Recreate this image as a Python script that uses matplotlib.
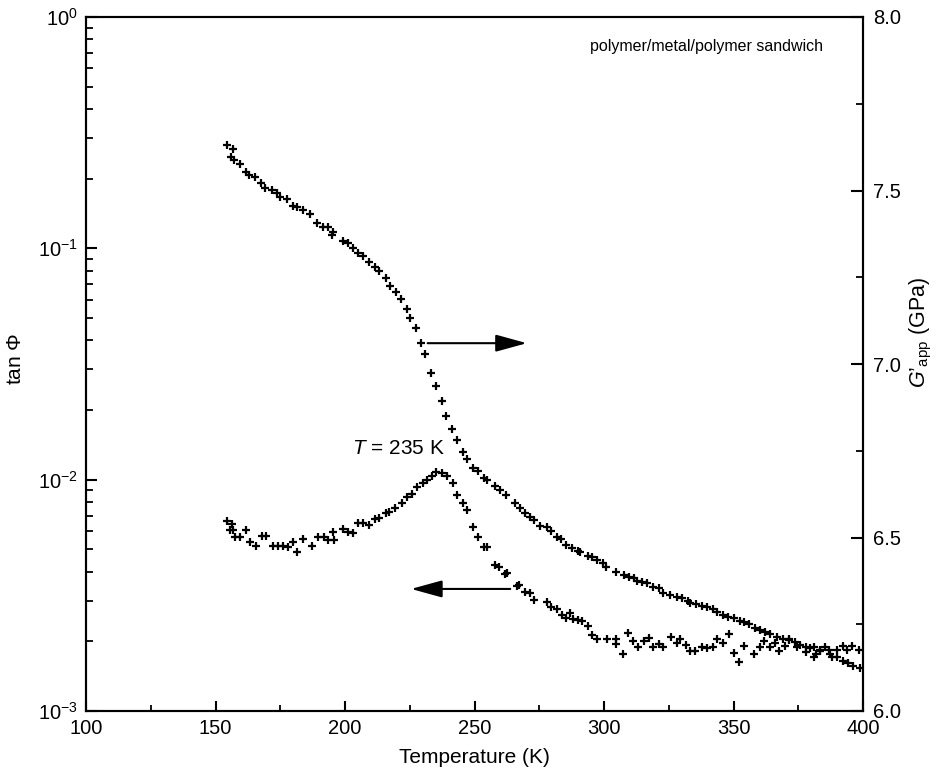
import matplotlib
matplotlib.use("Agg")
import matplotlib.pyplot as plt
from matplotlib.ticker import FixedLocator, MultipleLocator, LogLocator, NullFormatter, FixedFormatter

plt.rcParams['font.family'] = ['Liberation Sans', 'DejaVu Sans']
plt.rcParams['mathtext.fontset'] = 'custom'
plt.rcParams['mathtext.rm'] = 'Liberation Sans'
plt.rcParams['mathtext.it'] = 'Liberation Sans:italic'
plt.rcParams['mathtext.bf'] = 'Liberation Sans:bold'

# ---- data: apparent storage modulus G'_app (right axis) ----
temp_g = [154.3, 156.9, 155.9, 157.2, 159.5, 161.8, 163.1, 165.3, 167.5, 169.1,
          171.7, 173.7, 174.9, 177.5, 180.1, 181.4, 183.7, 186.5, 189.3, 191.4,
          193.6, 195.3, 194.9, 199.2, 201.3, 203.0, 205.2, 207.1, 209.4, 211.6,
          213.3, 215.9, 217.4, 219.7, 221.7, 223.9, 225.1, 227.5, 229.4, 230.7,
          233.1, 235.2, 237.4, 238.9, 241.3, 243.4, 245.5, 247.0, 249.4, 251.3,
          253.7, 255.0, 258.0, 259.9, 262.2, 265.7, 267.4, 269.6, 271.5, 273.0,
          275.4, 277.9, 279.5, 282.0, 283.4, 285.4, 287.6, 289.8, 290.8, 294.0,
          295.3, 297.3, 299.8, 300.9, 304.7, 307.8, 309.5, 311.4, 312.9, 314.6,
          316.6, 319.1, 321.4, 322.8, 325.6, 328.2, 330.1, 332.3, 333.3, 335.6,
          337.8, 339.7, 342.1, 343.6, 345.9, 347.7, 350.0, 352.6, 353.9, 355.8,
          358.4, 360.3, 362.3, 364.2, 366.8, 369.3, 371.3, 373.9, 375.8, 379.6,
          383.5, 387.4, 389.9, 392.3, 394.4, 396.1, 398.9]
g_app = [7.631, 7.619, 7.597, 7.588, 7.576, 7.554, 7.545, 7.540, 7.522, 7.506,
         7.501, 7.492, 7.482, 7.476, 7.455, 7.453, 7.444, 7.432, 7.405, 7.394,
         7.396, 7.381, 7.372, 7.355, 7.350, 7.333, 7.319, 7.311, 7.295, 7.280,
         7.269, 7.247, 7.225, 7.208, 7.186, 7.159, 7.132, 7.105, 7.060, 7.028,
         6.975, 6.937, 6.893, 6.850, 6.812, 6.781, 6.747, 6.725, 6.699, 6.692,
         6.671, 6.666, 6.648, 6.637, 6.622, 6.599, 6.584, 6.570, 6.560, 6.550,
         6.533, 6.529, 6.520, 6.502, 6.495, 6.478, 6.469, 6.462, 6.459, 6.447,
         6.443, 6.435, 6.426, 6.414, 6.401, 6.392, 6.385, 6.382, 6.375, 6.373,
         6.368, 6.358, 6.354, 6.339, 6.334, 6.328, 6.325, 6.318, 6.312, 6.308,
         6.303, 6.299, 6.293, 6.286, 6.277, 6.272, 6.267, 6.260, 6.257, 6.251,
         6.238, 6.233, 6.227, 6.222, 6.214, 6.207, 6.205, 6.200, 6.190, 6.182,
         6.173, 6.164, 6.155, 6.144, 6.137, 6.131, 6.123]

# ---- data: loss tangent tan(Phi) (left axis) ----
temp_tan = [154.3, 156.3, 155.6, 156.9, 157.6, 159.5, 161.8, 163.3, 165.7, 167.9,
            169.5, 172.1, 174.3, 176.2, 178.1, 180.1, 181.6, 183.9, 187.2, 189.7,
            191.7, 193.6, 195.3, 195.8, 199.4, 201.3, 203.0, 205.2, 207.1, 209.4,
            211.6, 213.3, 215.9, 216.8, 219.4, 221.9, 223.9, 225.8, 227.7, 230.1,
            231.6, 233.5, 235.2, 237.4, 239.3, 241.6, 243.4, 245.5, 247.0, 249.4,
            251.5, 253.7, 255.0, 258.0, 259.6, 261.8, 262.5, 266.6, 267.0, 269.6,
            271.5, 273.0, 277.9, 279.5, 281.8, 283.7, 285.4, 286.9, 288.0, 289.8,
            291.5, 294.0, 295.3, 297.3, 301.1, 304.7, 304.7, 307.5, 309.1, 311.2,
            313.3, 315.5, 317.2, 319.1, 321.4, 322.8, 325.8, 328.2, 329.2, 331.8,
            333.3, 335.2, 337.8, 339.7, 342.1, 343.6, 345.9, 348.1, 350.0, 352.3,
            353.9, 358.0, 360.3, 361.9, 363.9, 366.1, 367.4, 370.0, 371.6, 374.5,
            378.1, 378.1, 380.9, 380.9, 382.0, 383.5, 385.4, 386.7, 388.0, 390.0,
            392.3, 393.8, 395.8, 398.3]
tan_phi = [0.00665, 0.00643, 0.00606, 0.00606, 0.00564, 0.00564, 0.00606, 0.00540, 0.00517, 0.00571,
           0.00571, 0.00517, 0.00517, 0.00517, 0.00510, 0.00540, 0.00488, 0.00553, 0.00517, 0.00564,
           0.00564, 0.00549, 0.00596, 0.00549, 0.00610, 0.00596, 0.00590, 0.00652, 0.00652, 0.00637,
           0.00674, 0.00681, 0.00716, 0.00727, 0.00752, 0.00791, 0.00839, 0.00867, 0.00927, 0.00971,
           0.01000, 0.01040, 0.01080, 0.01070, 0.01040, 0.00971, 0.00859, 0.00791, 0.00740, 0.00626,
           0.00567, 0.00513, 0.00513, 0.00428, 0.00418, 0.00391, 0.00393, 0.00347, 0.00350, 0.00328,
           0.00323, 0.00302, 0.00297, 0.00282, 0.00275, 0.00260, 0.00252, 0.00265, 0.00249, 0.00247,
           0.00246, 0.00233, 0.00213, 0.00204, 0.00204, 0.00204, 0.00195, 0.00176, 0.00217, 0.00201,
           0.00190, 0.00201, 0.00206, 0.00189, 0.00195, 0.00190, 0.00208, 0.00197, 0.00204, 0.00193,
           0.00182, 0.00182, 0.00190, 0.00187, 0.00190, 0.00204, 0.00197, 0.00215, 0.00178, 0.00163,
           0.00191, 0.00176, 0.00190, 0.00201, 0.00190, 0.00197, 0.00182, 0.00191, 0.00204, 0.00190,
           0.00190, 0.00180, 0.00190, 0.00172, 0.00176, 0.00184, 0.00190, 0.00184, 0.00171, 0.00184,
           0.00191, 0.00184, 0.00191, 0.00184]

x_ticks = [100, 150, 200, 250, 300, 350, 400]
left_ticks = [1e-3, 1e-2, 1e-1, 1e0]
left_ticklabels = [r'$10^{-3}$', r'$10^{-2}$', r'$10^{-1}$', r'$10^{0}$']
right_ticks = [6.0, 6.5, 7.0, 7.5, 8.0]

# annotation anchors (data coordinates)
arrow_right = ((231.9, 7.06), (270.2, 7.06))
arrow_left = ((263.8, 0.00337), (225.5, 0.00337))
peak_label_pos = (202.7, 0.01357)

fig = plt.figure(figsize=(9.36, 7.72), dpi=100)
ax = fig.add_axes([86 / 936, 61 / 772, 777 / 936, 694 / 772])
ax2 = ax.twinx()

ax.plot(temp_tan, tan_phi, linestyle='none', marker='+', ms=6, mew=1.6, color='black')
ax2.plot(temp_g, g_app, linestyle='none', marker='+', ms=6, mew=1.6, color='black')

ax.set_xlim(100, 400)
ax.set_yscale('log')
ax.set_ylim(1e-3, 1e0)
ax2.set_ylim(6.0, 8.0)

ax.xaxis.set_major_locator(FixedLocator(x_ticks))
ax.xaxis.set_minor_locator(MultipleLocator(25))
ax.yaxis.set_major_locator(FixedLocator(left_ticks))
ax.yaxis.set_major_formatter(FixedFormatter(left_ticklabels))
ax.yaxis.set_minor_locator(LogLocator(base=10, subs=[2, 3, 4, 5, 6, 7, 8, 9], numticks=20))
ax.yaxis.set_minor_formatter(NullFormatter())
ax2.yaxis.set_major_locator(FixedLocator(right_ticks))
ax2.yaxis.set_major_formatter(FixedFormatter([f"{v:.1f}" for v in right_ticks]))
ax2.yaxis.set_minor_locator(MultipleLocator(0.25))

for a in (ax, ax2):
    for s in a.spines.values():
        s.set_linewidth(1.5)

ax.tick_params(axis='x', which='major', direction='in', length=7, width=1.5, labelsize=14.5, pad=6, top=False)
ax.tick_params(axis='x', which='minor', direction='in', length=4, width=1.3, top=False)
ax.tick_params(axis='y', which='major', direction='in', length=8, width=1.5, labelsize=14.5, pad=6, right=False)
ax.tick_params(axis='y', which='minor', direction='in', length=5, width=1.3, right=False)
ax2.tick_params(axis='y', which='major', direction='in', length=8.5, width=1.5, labelsize=14.5, pad=7)
ax2.tick_params(axis='y', which='minor', direction='in', length=5, width=1.3)

ax.set_xlabel('Temperature (K)', fontsize=15)
ax.xaxis.set_label_coords(0.5, -0.054)
ax.set_ylabel(r'tan $\Phi$', fontsize=15)
ax.yaxis.set_label_coords(-0.078, 0.507)
ax2.set_ylabel(r"$G$’$_{\mathrm{app}}$ (GPa)", fontsize=15.5)
ax2.yaxis.set_label_coords(1.058, 0.546)

ax.text(0.9485, 0.958, 'polymer/metal/polymer sandwich', transform=ax.transAxes,
        ha='right', va='center', fontsize=11.5)
ax.text(peak_label_pos[0], peak_label_pos[1], r'$T$ = 235 K', ha='left', va='center', fontsize=15)

ax2.annotate('', xy=arrow_right[1], xytext=arrow_right[0],
             arrowprops=dict(arrowstyle='-|>,head_length=0.8,head_width=0.22', mutation_scale=24,
                             lw=1.5, color='black', shrinkA=0, shrinkB=0))
ax.annotate('', xy=arrow_left[1], xytext=arrow_left[0],
            arrowprops=dict(arrowstyle='-|>,head_length=0.8,head_width=0.22', mutation_scale=24,
                            lw=1.5, color='black', shrinkA=0, shrinkB=0))

fig.savefig('out.png', dpi=100)
